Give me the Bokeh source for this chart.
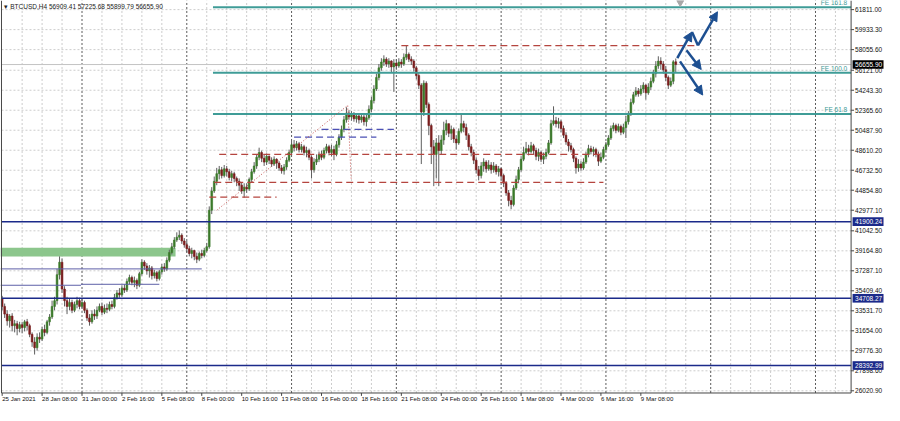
from bokeh.plotting import figure
from bokeh.models import Range1d, Arrow, NormalHead, ColumnDataSource
from bokeh.core.properties import value
from bokeh.embed import file_html
from bokeh.resources import INLINE

# ---------------- data (BTCUSD, H4, bar index 0 = 25 Jan 2021 16:00) ----------------
opens = [
34667, 33944, 33221, 32589, 33040, 32137, 32318, 31867, 32228, 31957,
32499, 32137, 31325, 30602, 30060, 31054, 30873, 31776, 31505, 32499,
32950, 33944, 34486, 36925, 38099, 35570, 34486, 33944, 34306, 33582,
34125, 34486, 33944, 34306, 33582, 32860, 32499, 33221, 33040, 33582,
33944, 33402, 33763, 33673, 34125, 33944, 34757, 35209, 35028, 35660,
35480, 36292, 36654, 36202, 36383, 35931, 37016, 38099, 37738, 37287,
37557, 36835, 37106, 36564, 37196, 37648, 37467, 38280, 39002, 39545,
40177, 40448, 40629, 40087, 39726, 39364, 38912, 39183, 38641, 38370,
38912, 38731, 39183, 39545, 42977, 44783, 45687, 46410, 46771, 46229,
46861, 46590, 46049, 46410, 45958, 45687, 45325, 44783, 45145, 44964,
45868, 46590, 47132, 47945, 48397, 47855, 47493, 48035, 47674, 47313,
47764, 47403, 46952, 46681, 47042, 47674, 48397, 49120, 48849, 49210,
48668, 48939, 48397, 48578, 47945, 46771, 47493, 47764, 48216, 47945,
48578, 48939, 48397, 48668, 48216, 49120, 49842, 50565, 51468, 52101,
51739, 52010, 51558, 51829, 51468, 51739, 51287, 51648, 52462, 53275,
54358, 55443, 56346, 56888, 57159, 56707, 56978, 56436, 56797, 56526,
56888, 56707, 57340, 57611, 57159, 56978, 56346, 55623, 54720, 52191,
54901, 52913, 50926, 48939, 48216, 49300, 48578, 49571, 50474, 51106,
50203, 50565, 49662, 49300, 50384, 51106, 50745, 50023, 48939, 48397,
47674, 46771, 46229, 47132, 47493, 46861, 47223, 46771, 47132, 46590,
46861, 46229, 45506, 44603, 43880, 43519, 45054, 45868, 46771, 47764,
48397, 48759, 48488, 49030, 48578, 48035, 48397, 47764, 48035, 48397,
49300, 51106, 51377, 51106, 51287, 50655, 50023, 49391, 49030, 48668,
47855, 46952, 47313, 46952, 47493, 48216, 48759, 48488, 48668, 48216,
47584, 47945, 48668, 49120, 49752, 50655, 50926, 50474, 50836, 50294,
50745, 51287, 52010, 53094, 53816, 54178, 53907, 54358, 54720, 53997,
54539, 55082, 55804, 56526, 56978, 56707, 56165, 55443, 54720, 55082,
56909.41]

highs = [
34938, 34215, 33582, 33221, 33311, 32679, 32589, 32499, 32499, 32679,
32770, 32318, 31505, 31054, 31415, 31505, 32047, 32228, 32679, 33221,
34486, 34847, 37467, 38641, 38460, 35841, 34847, 34667, 34577, 34396,
34847, 34757, 34667, 34486, 33763, 33221, 33582, 33673, 33944, 34215,
34306, 34125, 34215, 34396, 34486, 35118, 35480, 35660, 35931, 36021,
36564, 36925, 36835, 36745, 36564, 37196, 38370, 38280, 38009, 37828,
37738, 37377, 37287, 37377, 37919, 38009, 38551, 39274, 39906, 40448,
40900, 41080, 40809, 40358, 40087, 39635, 39455, 39274, 39002, 39093,
39274, 39455, 39906, 43339, 45145, 46139, 46952, 47132, 47042, 47223,
47132, 46861, 46681, 46590, 46139, 45958, 45597, 45506, 45506, 46049,
46861, 47493, 48216, 48849, 48578, 48216, 48307, 48126, 47945, 48035,
47855, 47584, 47223, 47313, 47945, 48668, 49481, 49571, 49481, 49391,
49210, 49120, 48939, 48759, 48126, 47855, 48216, 48488, 48578, 48849,
49210, 49120, 49120, 49030, 49481, 50113, 50926, 51829, 52643, 52372,
52281, 52191, 52101, 52010, 52010, 51920, 51920, 52823, 53636, 54720,
55804, 56707, 57249, 57521, 57340, 57249, 57068, 57159, 57159, 57249,
57159, 57701, 58424, 57792, 57430, 57159, 56526, 55894, 54901, 55172,
55082, 53094, 51106, 49571, 49752, 50023, 50023, 51287, 51468, 51106,
50926, 50745, 50023, 50655, 52101, 51377, 51106, 50203, 49210, 48668,
47945, 47132, 47493, 47855, 47674, 47674, 47493, 47493, 47313, 47132,
46952, 46410, 45687, 44874, 44332, 45325, 46229, 47042, 48035, 48939,
49391, 49120, 49391, 49210, 48849, 48759, 48578, 48397, 48759, 49571,
51468, 52733, 51739, 51648, 51468, 50926, 50294, 49662, 49300, 48849,
48035, 47764, 47584, 47855, 48488, 49120, 49030, 48939, 48849, 48488,
48397, 48939, 49391, 50023, 50926, 51197, 51106, 51106, 51016, 51106,
51829, 52281, 53455, 54088, 54539, 54449, 54720, 54991, 54811, 54901,
55443, 56165, 56978, 57430, 57340, 56978, 56526, 55623, 55443, 57068,
57225.68]

lows = [
33582, 32860, 32137, 31957, 31596, 31505, 31234, 31505, 31415, 31596,
31686, 31054, 30150, 29427, 29789, 30512, 30693, 31144, 31325, 32137,
32770, 33582, 34125, 36473, 35209, 33944, 33221, 33582, 33311, 33402,
33763, 33673, 33763, 33311, 32589, 32137, 32318, 32679, 32770, 33402,
33131, 33221, 33311, 33492, 33673, 33763, 34577, 34757, 34847, 35209,
35299, 36021, 35931, 35750, 35570, 35750, 36835, 37377, 36925, 36654,
36473, 36564, 36292, 36383, 36925, 37196, 37287, 38099, 38822, 39364,
39997, 40177, 39816, 39455, 39002, 38641, 38460, 38280, 38009, 38190,
38460, 38551, 39002, 39364, 42615, 44603, 45325, 45868, 45958, 46049,
46139, 45778, 45687, 45597, 45235, 44783, 44513, 44151, 44603, 44783,
45597, 46410, 46861, 47674, 47493, 47132, 47223, 47313, 47042, 47132,
46861, 46681, 46410, 46320, 46771, 47493, 48216, 48488, 48578, 48397,
48397, 48126, 47945, 47674, 45958, 46500, 47223, 47493, 47674, 47764,
48307, 48126, 48035, 47674, 48035, 48849, 49571, 50294, 51197, 51468,
51377, 51287, 51197, 51106, 51197, 50926, 50836, 51468, 52191, 53004,
54178, 55172, 56075, 56526, 56436, 56346, 55894, 54088, 56165, 56346,
56346, 56526, 57068, 56888, 56617, 55985, 55262, 54358, 47313, 51829,
52552, 50023, 47313, 45235, 45958, 45235, 48216, 49120, 50023, 49842,
49571, 49300, 48668, 49120, 50203, 50294, 49571, 48578, 48035, 47313,
46410, 45778, 45958, 46590, 46500, 46681, 46410, 46500, 46320, 46139,
45868, 45145, 44332, 43339, 43068, 43339, 44874, 45506, 46590, 47584,
48216, 48126, 48307, 48216, 47674, 47584, 47493, 47313, 47764, 48216,
49120, 50926, 50745, 50655, 50294, 49752, 49120, 48488, 48397, 47493,
46410, 46590, 46681, 46771, 47313, 47945, 48216, 48035, 47945, 47132,
47403, 47764, 48488, 48939, 49571, 50384, 50203, 50294, 50023, 50113,
49752, 51016, 51829, 52913, 53636, 53636, 53726, 53997, 53365, 53816,
54268, 54901, 55443, 56256, 56165, 55804, 55082, 54358, 54539, 54811,
55899.79]

closes = [
33944, 33221, 32589, 33040, 32137, 32318, 31867, 32228, 31957, 32499,
32137, 31325, 30602, 30060, 31054, 30873, 31776, 31505, 32499, 32950,
33944, 34486, 36925, 38099, 35570, 34486, 33944, 34306, 33582, 34125,
34486, 33944, 34306, 33582, 32860, 32499, 33221, 33040, 33582, 33944,
33402, 33763, 33673, 34125, 33944, 34757, 35209, 35028, 35660, 35480,
36292, 36654, 36202, 36383, 35931, 37016, 38099, 37738, 37287, 37557,
36835, 37106, 36564, 37196, 37648, 37467, 38280, 39002, 39545, 40177,
40448, 40629, 40087, 39726, 39364, 38912, 39183, 38641, 38370, 38912,
38731, 39183, 39545, 42977, 44783, 45687, 46410, 46771, 46229, 46861,
46590, 46049, 46410, 45958, 45687, 45325, 44783, 45145, 44964, 45868,
46590, 47132, 47945, 48397, 47855, 47493, 48035, 47674, 47313, 47764,
47403, 46952, 46681, 47042, 47674, 48397, 49120, 48849, 49210, 48668,
48939, 48397, 48578, 47945, 46771, 47493, 47764, 48216, 47945, 48578,
48939, 48397, 48668, 48216, 49120, 49842, 50565, 51468, 52101, 51739,
52010, 51558, 51829, 51468, 51739, 51287, 51648, 52462, 53275, 54358,
55443, 56346, 56888, 57159, 56707, 56978, 56436, 56797, 56526, 56888,
56707, 57340, 57611, 57159, 56978, 56346, 55623, 54720, 52191, 54901,
52913, 50926, 48939, 48216, 49300, 48578, 49571, 50474, 51106, 50203,
50565, 49662, 49300, 50384, 51106, 50745, 50023, 48939, 48397, 47674,
46771, 46229, 47132, 47493, 46861, 47223, 46771, 47132, 46590, 46861,
46229, 45506, 44603, 43880, 43519, 45054, 45868, 46771, 47764, 48397,
48759, 48488, 49030, 48578, 48035, 48397, 47764, 48035, 48397, 49300,
51106, 51377, 51106, 51287, 50655, 50023, 49391, 49030, 48668, 47855,
46952, 47313, 46952, 47493, 48216, 48759, 48488, 48668, 48216, 47584,
47945, 48668, 49120, 49752, 50655, 50926, 50474, 50836, 50294, 50745,
51287, 52010, 53094, 53816, 54178, 53907, 54358, 54720, 53997, 54539,
55082, 55804, 56526, 56978, 56707, 56165, 55443, 54720, 55082, 56909.41,
56655.90]

xlabel_bars = [0, 16, 32, 48, 64, 80, 96, 112, 128, 144, 160, 176, 192, 208, 224, 240, 256]
xlabels = ["25 Jan 2021", "28 Jan 08:00", "31 Jan 00:00", "2 Feb 16:00", "5 Feb 08:00",
           "8 Feb 00:00", "10 Feb 16:00", "13 Feb 08:00", "16 Feb 00:00", "18 Feb 16:00",
           "21 Feb 08:00", "24 Feb 00:00", "26 Feb 16:00", "1 Mar 08:00", "4 Mar 00:00",
           "6 Mar 16:00", "9 Mar 08:00"]
ytick_vals = [61811.00, 59933.30, 58055.60, 56121.00, 54243.30, 52365.60, 50487.90,
              48610.20, 46732.50, 44854.80, 42977.10, 41042.50, 39164.80, 37287.10,
              35409.40, 33531.70, 31654.00, 29776.30, 27898.60, 26020.90]
week_sep_bars = [32, 74, 116, 158, 200, 242, 284, 326]
grid_bars = [8, 16, 24, 40, 48, 56, 64, 82, 90, 98, 106, 124, 132, 140, 148, 166, 174, 182,
             190, 208, 216, 224, 232, 250, 258, 266, 274, 292, 300, 308, 316, 334]

bid_price = 56655.90
navy_levels = [41900.24, 34708.27, 28392.99]
fe_names = ["FE 161.8", "FE 100.0", "FE 61.8"]
fe_levels = [62040, 55890, 52010]
fe_start_bar = 84.5
zone_bars = [-0.7, 69.5]
zone_prices = [38641, 39455]
slate_y = [37467, 35931, 36022]
slate_x0 = [-0.7, -0.7, 31.6]
slate_x1 = [80, 31.6, 63]
red_y = [58424, 48216, 45597, 44200]
red_x0 = [160, 87, 85, 83]
red_x1 = [279, 241, 241, 110]
blue_y = [50565, 49842]
blue_x0 = [128, 117]
blue_x1 = [157, 150]
fibo_bars = [86, 138.5, 139.9]
fibo_prices = [42977, 52820, 45868]
arrow_x0 = [270.6, 278.9, 274.3, 271.7]
arrow_y0 = [57249, 58451, 58000, 56951]
arrow_x1 = [276.5, 286.7, 280.2, 280.8]
arrow_y1 = [59715, 61612, 56192, 53790]
shift_bar, shift_price = 271.8, 62480

# ---------------- layout helpers (reference pixel -> data) ----------------
PX_PER_BAR, BAR0_PX = 2.54, 1.7
PRICE_TOP, PRICE_PER_PX = 62669, 90.33

def bx(px):
    return (px - BAR0_PX) / PX_PER_BAR

def py(px):
    return PRICE_TOP - PRICE_PER_PX * px

X0, X1 = bx(0), bx(900)
Y0, Y1 = py(421), py(0)
AX_X = bx(866)        # price-scale axis line
AX_Y = py(408)        # time-scale axis line
LEFT_X = bx(1)

FONT = value("Liberation Sans")
FS = value("6.5px")
FSX = value("6.1px")
UP, DN, WICK = "#3b7a2a", "#7a1d1d", "#5e5e5e"
TEAL, NAVY = "#3f9c97", "#1b2a8a"
AXC = "#454545"

p = figure(frame_width=884, frame_height=405, x_range=Range1d(X0, X1), y_range=Range1d(Y0, Y1),
           x_axis_location=None, y_axis_location=None, output_backend="svg", toolbar_location=None,
           min_border=0)
p.outline_line_color = None
p.xgrid.visible = False
p.ygrid.visible = False
p.background_fill_color = "white"
p.border_fill_color = "white"

# grid
p.segment(x0=[LEFT_X] * len(ytick_vals), x1=[AX_X] * len(ytick_vals), y0=ytick_vals, y1=ytick_vals,
          line_color="#cccccc", line_dash="2 2", line_width=1)
p.segment(x0=grid_bars, x1=grid_bars, y0=[AX_Y] * len(grid_bars), y1=[Y1] * len(grid_bars),
          line_color="#cccccc", line_dash="2 2", line_width=1)
sep = [b for b in week_sep_bars if b < AX_X]
p.segment(x0=sep, x1=sep, y0=[AX_Y] * len(sep), y1=[Y1] * len(sep),
          line_color="#5a5a5a", line_dash="2 2", line_width=1)

# zone + bid line
p.quad(left=[zone_bars[0]], right=[zone_bars[1]], bottom=[zone_prices[0]], top=[zone_prices[1]],
       fill_color="#8cc68c", line_color=None)
p.segment(x0=[LEFT_X], x1=[AX_X], y0=[bid_price], y1=[bid_price], line_color="#c4c4c4", line_width=1)

# candles
bars = list(range(len(closes)))
tops = [max(o, c) for o, c in zip(opens, closes)]
bots = [min(o, c) for o, c in zip(opens, closes)]
cols = [UP if c >= o else DN for o, c in zip(opens, closes)]
src = ColumnDataSource(dict(i=bars, h=highs, l=lows, top=tops, bot=bots, col=cols))
p.segment(x0="i", y0="l", x1="i", y1="h", source=src, line_color=WICK, line_width=1)
p.vbar(x="i", width=0.7, top="top", bottom="bot", fill_color="col", line_color="col",
       line_width=0.6, source=src)

# chart objects
n = len(navy_levels)
p.segment(x0=[LEFT_X] * n, x1=[AX_X] * n, y0=navy_levels, y1=navy_levels, line_color=NAVY, line_width=1.6)
p.segment(x0=slate_x0, x1=slate_x1, y0=slate_y, y1=slate_y, line_color="#5e60a8", line_width=1)
p.segment(x0=[fe_start_bar] * 3, x1=[AX_X] * 3, y0=fe_levels, y1=fe_levels, line_color=TEAL, line_width=2)
p.segment(x0=red_x0, x1=red_x1, y0=red_y, y1=red_y, line_color="#b5453f", line_width=1.2, line_dash="7 4")
p.segment(x0=blue_x0, x1=blue_x1, y0=blue_y, y1=blue_y, line_color="#4b50b4", line_width=1.2, line_dash="7 4")
p.line(fibo_bars, fibo_prices, line_color="#c0504d", line_width=1, line_dash="1 2")

ARW = "#1d4f91"
for k in range(len(arrow_x0)):
    p.add_layout(Arrow(end=NormalHead(size=9, fill_color=ARW, line_color=ARW, line_width=1),
                       x_start=arrow_x0[k], y_start=arrow_y0[k], x_end=arrow_x1[k], y_end=arrow_y1[k],
                       line_color=ARW, line_width=2.5))
p.line([arrow_x1[0], arrow_x0[1]], [arrow_y1[0], arrow_y0[1]], line_color=ARW, line_width=2.5)
p.scatter([shift_bar], [shift_price], marker="inverted_triangle", size=7, color="#a8a8a8")

# axes (drawn inside the frame)
p.segment(x0=[LEFT_X, LEFT_X, AX_X], x1=[LEFT_X, AX_X, AX_X], y0=[AX_Y, AX_Y, AX_Y], y1=[Y1, AX_Y, Y1],
          line_color=AXC, line_width=1)
tick_dx = 3 / PX_PER_BAR
tick_dy = 3 * PRICE_PER_PX
ny = len(ytick_vals)
p.segment(x0=[AX_X] * ny, x1=[AX_X + tick_dx] * ny, y0=ytick_vals, y1=ytick_vals, line_color=AXC)
nx = len(xlabel_bars)
p.segment(x0=xlabel_bars, x1=xlabel_bars, y0=[AX_Y] * nx, y1=[AX_Y - tick_dy] * nx, line_color=AXC)

lab_x = bx(870)
p.text(x=[lab_x] * ny, y=ytick_vals, text=[f"{v:.2f}" for v in ytick_vals], text_font=FONT,
       text_font_size=FS, text_color="#111111", text_align="left", text_baseline="middle")
p.text(x=xlabel_bars, y=[py(414)] * nx, text=xlabels, text_font=FONT, text_font_size=FSX,
       text_color="#111111", text_align="left", text_baseline="middle")

# highlighted price labels
hl_levels = navy_levels + [bid_price]
hl_colors = [NAVY] * n + ["black"]
half_h = 4.5 * PRICE_PER_PX
p.quad(left=[bx(867.5)] * len(hl_levels), right=[bx(899)] * len(hl_levels),
       bottom=[v - half_h for v in hl_levels], top=[v + half_h for v in hl_levels],
       fill_color=hl_colors, line_color=None)
p.text(x=[lab_x] * len(hl_levels), y=hl_levels, text=[f"{v:.2f}" for v in hl_levels], text_font=FONT,
       text_font_size=FS, text_color="white", text_align="left", text_baseline="middle")

# FE level names
p.text(x=[bx(862)] * 3, y=fe_levels, text=fe_names, text_font=FONT, text_font_size=FS,
       text_color=TEAL, text_align="right", text_baseline="bottom", y_offset=-1)

# title
title = "\u25BE BTCUSD,H4  {:.2f} {:.2f} {:.2f} {:.2f}".format(opens[-1], highs[-1], lows[-1], closes[-1])
p.text(x=[bx(4)], y=[py(6)], text=[title], text_font=FONT, text_font_size=FS,
       text_color="#222222", text_align="left", text_baseline="middle")

open("out.html", "w").write(file_html(p, INLINE))
